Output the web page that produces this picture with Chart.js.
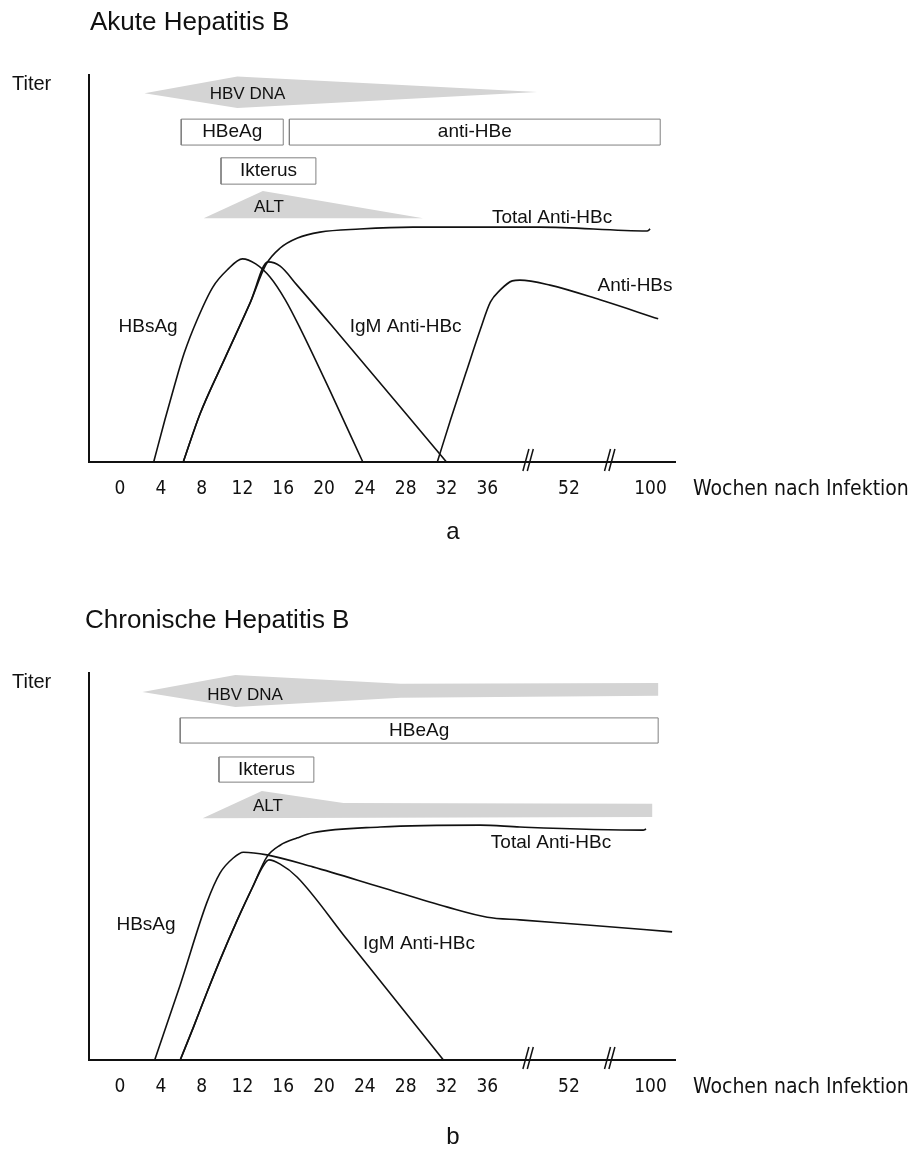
<!DOCTYPE html>
<html>
<head>
<meta charset="utf-8">
<script src="https://cdn.jsdelivr.net/npm/chart.js@4.4.1/dist/chart.umd.min.js"></script>
<style>
  html, body { margin: 0; padding: 0; background: #fff; }
  canvas { position: absolute; left: 0; }
</style>
</head>
<body>
<canvas id="akutChart" width="917" height="598" style="top:0"></canvas>
<canvas id="chronChart" width="917" height="551" style="top:598px"></canvas>
<script>
// Serologischer Verlauf der Hepatitis B (akut und chronisch)

// Wochen nach Infektion (Achse mit Bruch nach 36 Wochen)
const tickWeeks = [0, 4, 8, 12, 16, 20, 24, 28, 32, 36, 52, 100];
const breakWeeks = [44, 76];

// Akute Hepatitis B, Punkte als [Woche, Titer]
const akutHBsAg = [[3.3, 0], [4.4, 10.9], [5.3, 19.4], [6.3, 28.2], [7.55, 36.7], [9.1, 45.2], [10.5, 49.6], [12.0, 52.5],
  [13.3, 51.2], [14.7, 47.8], [16.2, 41.9], [17.65, 34.6], [20.6, 18.3], [23.8, 0]];
const akutTotalAntiHBc = [[6.2, 0], [7.84, 12.4], [10.3, 26.9], [12.75, 41.1], [14.3, 51.0], [15.7, 55.3], [17.4, 57.9],
  [19.6, 59.4], [23.5, 60.2], [28.7, 60.7], [46.3, 60.7], [98.0, 59.7], [99.8, 60.2]];
const akutIgMAntiHBc = [[6.2, 0], [7.84, 12.4], [10.3, 26.9], [12.75, 41.1], [14.5, 51.7], [15.7, 50.6], [17.35, 45.7],
  [20.6, 35.7], [32.0, 0]];
const akutAntiHBs = [[31.1, 0], [32.4, 10.9], [34.0, 23.8], [35.3, 34.1], [36.6, 41.3], [38.5, 44.4], [40.9, 46.8],
  [42.4, 47.0], [48.3, 45.7], [70.3, 41.9], [104.5, 37.0]];
const akutHbvDna = [[2.4, 95.3], [11.5, 99.6], [45.8, 95.6], [11.5, 91.5], [2.4, 95.3]];
const akutAlt = [[8.2, 63.0], [14.0, 70.0], [29.7, 63.0], [8.2, 63.0]];
// Kästen: [Text, von Woche, bis Woche, unten, oben]
const akutBoxes = [['HBeAg', 6.0, 16.0, 81.9, 88.6], ['anti-HBe', 16.6, 105.7, 81.9, 88.6], ['Ikterus', 9.9, 19.2, 71.8, 78.6]];
// Beschriftungen: [Text, Woche, Titer]
const akutLabels = [['HBV DNA', 12.5, 95.1], ['ALT', 14.6, 65.9], ['HBsAg', 2.75, 34.9], ['IgM Anti-HBc', 28.0, 34.9],
  ['Total Anti-HBc', 48.7, 63.0], ['Anti-HBs', 90.9, 45.5]];

// Chronische Hepatitis B
const chronHBsAg = [[3.4, 0], [5.9, 19.4], [8.5, 40.6], [9.8, 48.3], [11.1, 52.2], [12.1, 53.7], [14.4, 53.0], [18.9, 49.9],
  [25.5, 44.7], [32.1, 39.5], [36.0, 36.9], [42.4, 36.2], [62.8, 34.9], [112.7, 33.1]];
const chronTotalAntiHBc = [[5.9, 0], [7.2, 8.5], [8.5, 17.3], [9.8, 25.8], [11.5, 36.2], [13.0, 44.7], [14.4, 52.5],
  [15.7, 55.5], [17.4, 57.4], [18.9, 58.7], [25.5, 60.2], [35.3, 60.7], [42.4, 60.2], [95.7, 59.4], [97.4, 59.7]];
const chronIgMAntiHBc = [[5.9, 0], [7.2, 8.5], [8.5, 17.3], [9.8, 25.8], [11.5, 36.2], [13.0, 44.7], [14.0, 50.0],
  [14.6, 51.7], [15.7, 50.6], [17.35, 47.3], [22.3, 31.0], [31.7, 0]];
const chronHbvDna = [[2.2, 95.1], [11.3, 99.5], [27.5, 97.2], [104.5, 97.4], [104.5, 94.1], [27.5, 93.6], [11.3, 91.2], [2.2, 95.1]];
const chronAlt = [[8.1, 62.5], [13.9, 69.5], [21.9, 66.4], [101.0, 66.2], [101.0, 62.8], [8.1, 62.5]];
const chronBoxes = [['HBeAg', 5.9, 104.5, 81.9, 88.4], ['Ikterus', 9.7, 19.0, 71.8, 78.3]];
const chronLabels = [['HBV DNA', 12.25, 94.3], ['ALT', 14.5, 65.6], ['HBsAg', 2.55, 34.9], ['IgM Anti-HBc', 29.3, 30.0],
  ['Total Anti-HBc', 48.5, 56.1]];

const FONT = "'Liberation Sans', Arial, sans-serif";
const NARROW = "'Liberation Sans Narrow', 'DejaVu Sans Condensed', 'Liberation Sans', Arial, sans-serif";
Chart.defaults.font.family = FONT;

// Woche -> Position auf der gebrochenen Achse
function weekToPos(w) {
  if (w <= 36) return w / 4;
  if (w <= 52) return 9 + (w - 36) / 8;
  return 11 + (w - 52) / 24;
}
function toXY(list) {
  return list.map(p => ({ x: weekToPos(p[0]), y: p[1] }));
}

const curve = (d) => ({ data: toXY(d), borderColor: '#111', borderWidth: 1.6, cubicInterpolationMode: 'monotone', fill: false, clip: false });
const wedge = (d) => ({ data: toXY(d), borderColor: 'rgba(0,0,0,0)', borderWidth: 1, backgroundColor: '#d4d4d4', fill: 'shape', tension: 0 });
const box = (b) => ({
  data: toXY([[b[1], b[3]], [b[2], b[3]], [b[2], b[4]], [b[1], b[4]], [b[1], b[3]]]),
  borderColor: '#808080', borderWidth: 1, backgroundColor: '#fff', fill: 'shape', tension: 0
});

// Texte, Bruchzeichen und Kastenbeschriftungen
const textPlugin = {
  id: 'texte',
  afterDatasetsDraw(chart, args, opts) {
    const { ctx, chartArea, scales: { x, y } } = chart;
    const base = chartArea.bottom;
    ctx.save();
    ctx.strokeStyle = '#111';
    ctx.lineWidth = 1.5;
    breakWeeks.forEach(w => {
      const px = x.getPixelForValue(weekToPos(w));
      [-2.2, 2.2].forEach(d => {
        ctx.beginPath();
        ctx.moveTo(px + d + 3, base - 13);
        ctx.lineTo(px + d - 3, base + 9);
        ctx.stroke();
      });
    });
    ctx.fillStyle = '#111';
    ctx.textBaseline = 'middle';
    ctx.textAlign = 'center';
    ctx.font = '19px ' + FONT;
    opts.boxes.forEach(b => {
      const cx = (x.getPixelForValue(weekToPos(b[1])) + x.getPixelForValue(weekToPos(b[2]))) / 2;
      const cy = (y.getPixelForValue(b[3]) + y.getPixelForValue(b[4])) / 2;
      ctx.fillText(b[0], cx, cy);
    });
    opts.labels.forEach(l => {
      ctx.font = (l[0] === 'HBV DNA' || l[0] === 'ALT' ? '17px ' : '19px ') + FONT;
      ctx.fillText(l[0], x.getPixelForValue(weekToPos(l[1])), y.getPixelForValue(l[2]));
    });
    ctx.font = '24px ' + FONT;
    ctx.fillText(opts.letter, 453, base + opts.letterDy);
    ctx.textAlign = 'left';
    ctx.font = '26px ' + FONT;
    ctx.fillText(opts.title, opts.titleX, chartArea.top - 52);
    ctx.font = '20px ' + FONT;
    ctx.fillText('Titer', 12, chartArea.top + 9);
    ctx.font = '21px ' + NARROW;
    ctx.fillText('Wochen nach Infektion', 693, base + 28);
    ctx.restore();
  }
};

function makeChart(id, series, wedges, boxes, labels, title, titleX, letter, letterDy, height) {
  const datasets = wedges.map(wedge).concat(boxes.map(box), series.map(curve));
  return new Chart(document.getElementById(id), {
    type: 'line',
    data: { datasets: datasets },
    options: {
      responsive: false,
      animation: false,
      elements: { point: { radius: 0 } },
      layout: { padding: { left: 89, top: 75, right: 242, bottom: height - 462 - 60 } },
      scales: {
        x: {
          type: 'linear', min: -0.76, max: 13.6,
          grid: { display: false, drawTicks: false },
          border: { display: true, color: '#111', width: 2 },
          afterBuildTicks: (scale) => { scale.ticks = tickWeeks.map(w => ({ value: weekToPos(w) })); },
          afterFit: (scale) => { scale.height = 60; },
          ticks: {
            padding: 16, color: '#111', autoSkip: false, maxRotation: 0,
            font: { family: NARROW, size: 19 },
            callback: (v, i) => tickWeeks[i]
          }
        },
        y: {
          min: 0, max: 100,
          grid: { display: false, drawTicks: false },
          border: { display: true, color: '#111', width: 2 },
          ticks: { display: false },
          afterFit: (scale) => { scale.width = 0; }
        }
      },
      plugins: {
        legend: { display: false },
        tooltip: { enabled: false },
        texte: { boxes: boxes, labels: labels, title: title, titleX: titleX, letter: letter, letterDy: letterDy }
      }
    },
    plugins: [textPlugin]
  });
}

makeChart('akutChart', [akutHBsAg, akutTotalAntiHBc, akutIgMAntiHBc, akutAntiHBs], [akutHbvDna, akutAlt],
  akutBoxes, akutLabels, 'Akute Hepatitis B', 90, 'a', 70, 598);
makeChart('chronChart', [chronHBsAg, chronTotalAntiHBc, chronIgMAntiHBc], [chronHbvDna, chronAlt],
  chronBoxes, chronLabels, 'Chronische Hepatitis B', 85, 'b', 77, 551);
</script>
</body>
</html>
